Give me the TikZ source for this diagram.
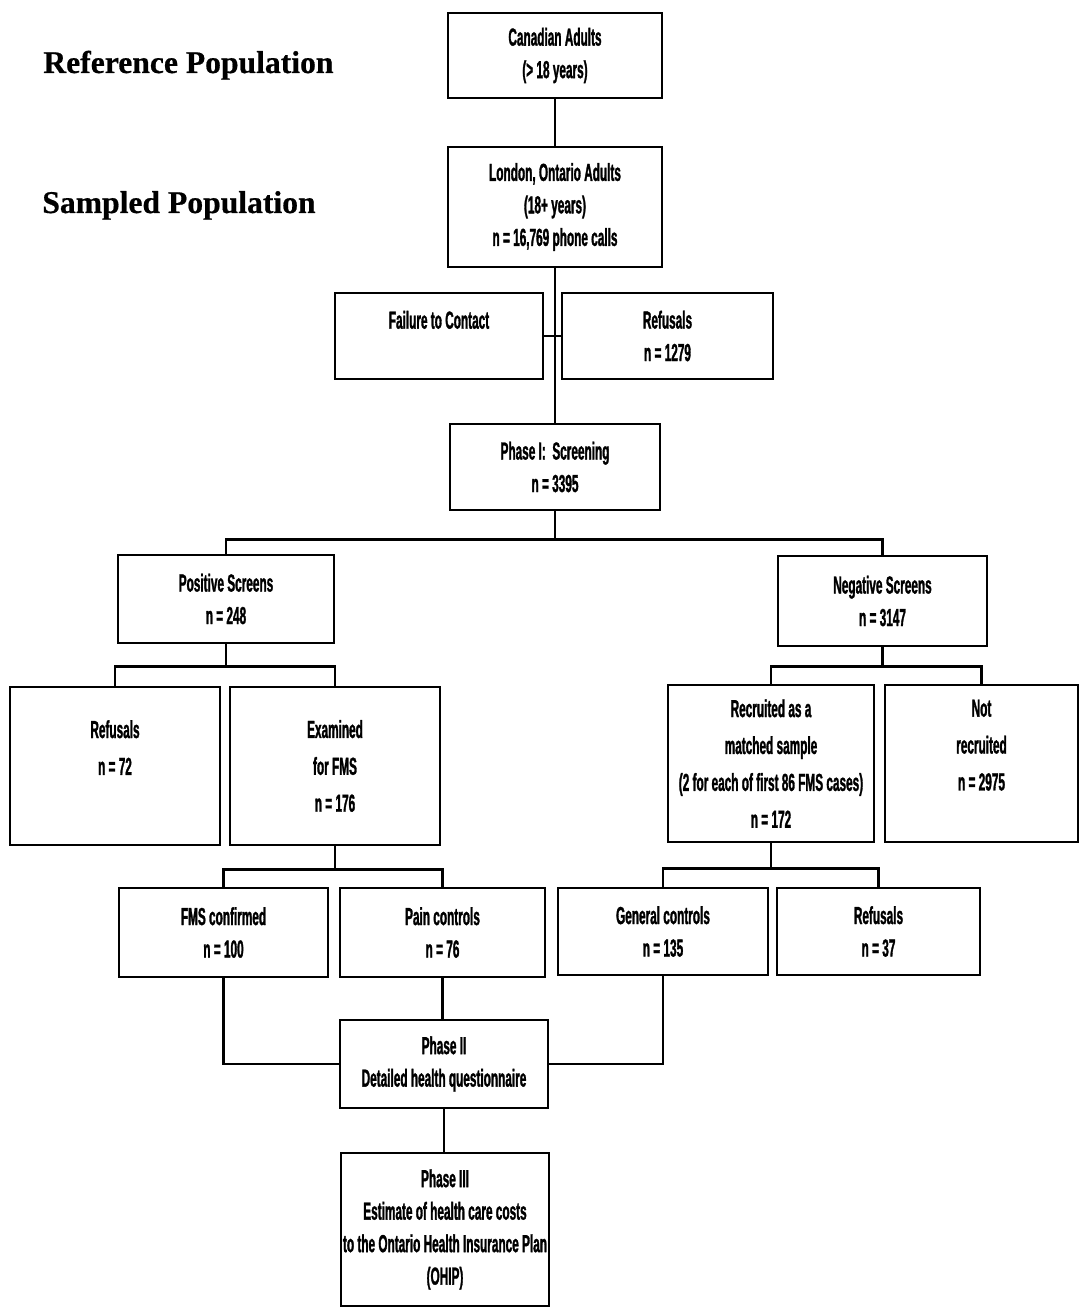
\documentclass[tikz,border=0pt]{standalone}
\usepackage{fontspec}
\usepackage{tikz}
\newfontfamily\boxfont[FakeStretch=0.48,FakeBold=1.2]{Liberation Sans}
\newfontfamily\popfont[FakeBold=0.6]{Liberation Serif}

\begin{document}
\begin{tikzpicture}[
  x=0.02cm, y=-0.02cm,
  box/.style={draw=black, fill=white, line width=1.6pt, inner sep=1pt, align=center,
              font=\boxfont\bfseries\fontsize{14pt}{18.5pt}\selectfont},
  tallbox/.style={box, font=\boxfont\bfseries\fontsize{14pt}{21pt}\selectfont},
  pop/.style={font=\popfont\bfseries\fontsize{18pt}{20pt}\selectfont,
              anchor=base west, inner sep=0pt},
  ln/.style={line width=1.3pt, draw=black},
]
  \useasboundingbox (0,0) rectangle (1081,1311);

  \node[pop] (refpop) at (43,73) {Reference Population};
  \node[pop] (smppop) at (42,213) {Sampled Population};

  \node[box, minimum width=4.28cm, minimum height=1.70cm] (can) at (555,55.5)
    {Canadian Adults\\(> 18 years)};
  \node[box, minimum width=4.28cm, minimum height=2.40cm] (lon) at (555,207)
    {London, Ontario Adults\\(18+ years)\\n = 16,769 phone calls};
  \node[box, minimum width=4.16cm, minimum height=1.72cm] (fail) at (439,336)
    {Failure to Contact\\\mbox{}};
  \node[box, minimum width=4.22cm, minimum height=1.72cm] (ref1) at (667.5,336)
    {Refusals\\n = 1279};
  \node[box, minimum width=4.20cm, minimum height=1.72cm] (ph1) at (555,467)
    {Phase I:\ \ Screening\\n = 3395};

  \node[box, minimum width=4.32cm, minimum height=1.76cm] (pos) at (226,599)
    {Positive Screens\\n = 248};
  \node[box, minimum width=4.18cm, minimum height=1.80cm] (neg) at (882.5,601)
    {Negative Screens\\n = 3147};

  \node[tallbox, minimum width=4.20cm, minimum height=3.16cm] (ref2) at (115,766)
    {Refusals\\n = 72\\\mbox{}};
  \node[tallbox, minimum width=4.20cm, minimum height=3.16cm] (exam) at (335,766)
    {Examined\\for FMS\\n = 176};
  \node[tallbox, minimum width=4.12cm, minimum height=3.14cm] (recr) at (771,763.5)
    {Recruited as a\\matched sample\\(2 for each of first 86 FMS cases)\\n = 172};
  \node[tallbox, minimum width=3.86cm, minimum height=3.14cm] (notr) at (981.5,763.5)
    {Not\\recruited\\n = 2975\\\mbox{}};

  \node[box, minimum width=4.18cm, minimum height=1.78cm] (fms) at (223.5,932.5)
    {FMS confirmed\\n = 100};
  \node[box, minimum width=4.10cm, minimum height=1.78cm] (pain) at (442.5,932.5)
    {Pain controls\\n = 76};
  \node[box, minimum width=4.20cm, minimum height=1.74cm] (gen) at (663,931.5)
    {General controls\\n = 135};
  \node[box, minimum width=4.06cm, minimum height=1.74cm] (ref3) at (878.5,931.5)
    {Refusals\\n = 37};

  \node[box, minimum width=4.16cm, minimum height=1.76cm] (ph2) at (444,1064)
    {Phase II\\Detailed health questionnaire};
  \node[box, minimum width=4.16cm, minimum height=3.06cm] (ph3) at (445,1229.5)
    {Phase III\\Estimate of health care costs\\to the Ontario Health Insurance Plan\\(OHIP)};

  \draw[ln] (can) -- (lon);
  \draw[ln] (lon) -- (ph1);
  \draw[ln] (fail) -- (ref1);

  \draw[ln] (ph1.south) -- ++(0,28) -| (pos.north);
  \draw[ln] (ph1.south) -- ++(0,28) -| (neg.north);

  \draw[ln] (pos.south) -- ++(0,22) -| (ref2.north);
  \draw[ln] (pos.south) -- ++(0,22) -| (exam.north);
  \draw[ln] (neg.south) -- ++(0,19) -| (recr.north);
  \draw[ln] (neg.south) -- ++(0,19) -| (notr.north);

  \draw[ln] (exam.south) -- ++(0,23) -| (fms.north);
  \draw[ln] (exam.south) -- ++(0,23) -| (pain.north);
  \draw[ln] (recr.south) -- ++(0,25) -| (gen.north);
  \draw[ln] (recr.south) -- ++(0,25) -| (ref3.north);

  \draw[ln] (fms.south) |- (ph2.west);
  \draw[ln] (gen.south) |- (ph2.east);
  \draw[ln] (pain.south) -- (pain.south |- ph2.north);
  \draw[ln] (ph2) -- (ph3.north -| ph2.south);
\end{tikzpicture}
\end{document}
